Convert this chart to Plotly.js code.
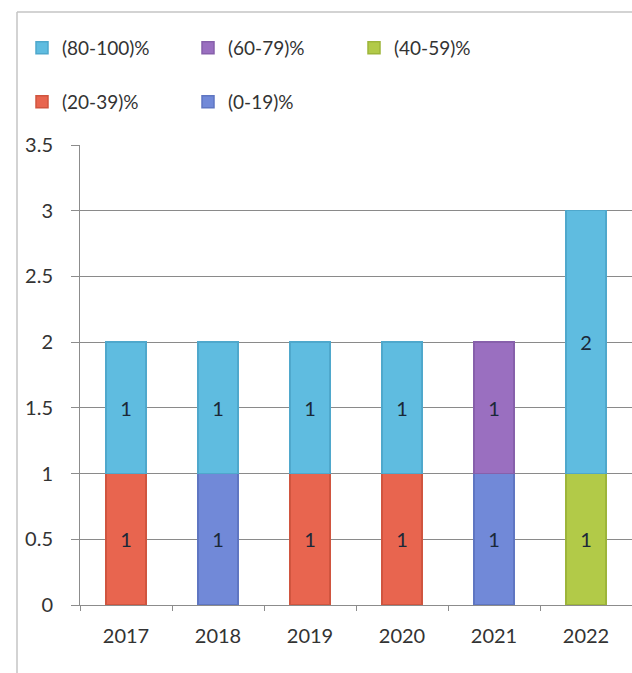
<!DOCTYPE html>
<html>
<head>
<meta charset="utf-8">
<script src="https://cdn.plot.ly/plotly-3.0.1.min.js"></script>
<style>html,body{margin:0;padding:0;background:#fff;}#chart{width:632px;height:673px;}</style>
</head>
<body>
<div id="chart"></div>
<script>
const years = ['2017', '2018', '2019', '2020', '2021', '2022'];
const seriesNames = ['(0-19)%', '(20-39)%', '(40-59)%', '(60-79)%', '(80-100)%'];
const s0_19   = [null, 1, null, null, 1, null];
const s20_39  = [1, null, 1, 1, null, null];
const s40_59  = [null, null, null, null, null, 1];
const s60_79  = [null, null, null, null, 1, null];
const s80_100 = [1, 1, 1, 1, null, 2];
const seriesValues = [s0_19, s20_39, s40_59, s60_79, s80_100];
const seriesColors = ['#7189d8', '#e8654f', '#b2ca48', '#9a6fc0', '#5fbce0'];
const seriesEdges  = ['#5f76c2', '#d0553f', '#9db53a', '#8760ab', '#4fa8cc'];
const seriesLegend = ['legend2', 'legend2', 'legend', 'legend', 'legend'];
const yTicks = [0, 0.5, 1, 1.5, 2, 2.5, 3, 3.5];

const FONT = 'Lato, "Open Sans", sans-serif';
const W = 552;
const px = v => (v - 80) / W;

const data = seriesNames.map((name, i) => ({
  type: 'bar',
  name: name,
  x: years,
  y: seriesValues[i],
  legend: seriesLegend[i],
  marker: {color: seriesColors[i], line: {width: 1.5, color: seriesEdges[i]}},
  texttemplate: '%{y}',
  textposition: 'inside',
  insidetextanchor: 'middle',
  textangle: 0,
  textfont: {family: FONT, size: 20, color: '#1a2838'},
  hoverinfo: 'x+y+name'
}));

const layout = {
  width: 632,
  height: 673,
  margin: {l: 80, r: 0, t: 145, b: 68},
  paper_bgcolor: '#ffffff',
  plot_bgcolor: '#ffffff',
  barmode: 'stack',
  bargap: 0.565,
  font: {family: FONT, size: 20, color: '#333333'},
  showlegend: true,
  legend: {
    orientation: 'h', traceorder: 'reversed',
    x: px(22), xanchor: 'left', y: 1 + (145 - 48) / 460, yanchor: 'middle',
    entrywidth: 121, entrywidthmode: 'pixels',
    font: {family: FONT, size: 19, color: '#333333'},
    bgcolor: 'rgba(0,0,0,0)'
  },
  legend2: {
    orientation: 'h', traceorder: 'reversed',
    x: px(22), xanchor: 'left', y: 1 + (145 - 102) / 460, yanchor: 'middle',
    entrywidth: 121, entrywidthmode: 'pixels',
    font: {family: FONT, size: 19, color: '#333333'},
    bgcolor: 'rgba(0,0,0,0)'
  },
  xaxis: {
    type: 'category',
    showgrid: false,
    showline: true, linecolor: '#8c8c8c', linewidth: 1,
    ticks: 'outside', tickson: 'boundaries', ticklen: 5, tickcolor: '#8c8c8c',
    ticklabelstandoff: 13,
    tickfont: {family: FONT, size: 20, color: '#333333'},
    zeroline: false
  },
  yaxis: {
    range: [0, 3.5],
    tickvals: yTicks,
    ticktext: yTicks.map(String),
    showgrid: true, gridcolor: '#8a8a8a', gridwidth: 1,
    showline: true, linecolor: '#8c8c8c', linewidth: 1,
    ticks: 'outside', ticklen: 8, tickcolor: '#8c8c8c',
    ticklabelstandoff: 14,
    tickfont: {family: FONT, size: 20, color: '#333333'},
    zeroline: false
  },
  shapes: [
    {type: 'line', xref: 'paper', yref: 'paper', x0: px(17), x1: px(17), y0: 1 + (145 - 12) / 460, y1: -68 / 460, line: {color: '#c4c4c4', width: 1.5}},
    {type: 'line', xref: 'paper', yref: 'paper', x0: px(17), x1: 1.01, y0: 1 + (145 - 12) / 460, y1: 1 + (145 - 12) / 460, line: {color: '#c4c4c4', width: 1.5}}
  ]
};

Plotly.newPlot('chart', data, layout, {displayModeBar: false, staticPlot: true});
</script>
</body>
</html>
